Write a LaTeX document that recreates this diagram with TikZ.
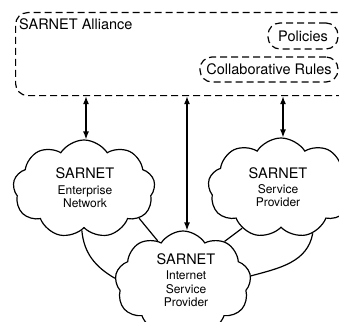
\documentclass[tikz,border=0pt]{standalone}
\usepackage{fontspec}
\setmainfont{TeX Gyre Heros}
\usetikzlibrary{shapes.symbols,arrows.meta}
\begin{document}
\begin{tikzpicture}[x=1pt,y=-1pt,
  dashbox/.style={draw, line width=1.2pt, dash pattern=on 7pt off 4pt, rounded corners=12pt, inner sep=0pt},
  cloudshape/.style={cloud, draw, line width=1.2pt, cloud puffs=9, cloud puff arc=115, cloud ignores aspect, inner sep=0pt},
  bigtxt/.style={font=\fontsize{14.5}{16}\selectfont, inner sep=0pt},
  smalltxt/.style={font=\fontsize{12}{13.5}\selectfont, inner sep=0pt, align=center},
  conn/.style={line width=1.2pt},
  arr/.style={line width=1.2pt, {Latex[length=8pt,width=6pt]}-{Latex[length=8pt,width=6pt]}}
]
\useasboundingbox (0,0) rectangle (339,321);
% alliance box
\node[dashbox, minimum width=345pt, minimum height=83pt, anchor=north west] (box) at (15,12) {};
\node[bigtxt, anchor=west] (title) at (19,24) {SARNET Alliance};
\node[dashbox, minimum width=70pt, minimum height=26pt, font=\fontsize{14.5}{16}\selectfont] (pol) at (303,36) {Policies};
\node[dashbox, minimum width=138pt, minimum height=25pt, font=\fontsize{14.5}{16}\selectfont] (col) at (269,69.5) {Collaborative Rules};
% clouds
\node[cloudshape, minimum width=142pt, minimum height=98pt] (lc) at (84,189) {};
\node[cloudshape, minimum width=146pt, minimum height=100pt] (rc) at (281,188) {};
\node[cloudshape, minimum width=136pt, minimum height=104pt] (bc) at (183,283) {};
% texts
\node[bigtxt] (lt1) at (85,173) {SARNET};
\node[smalltxt] (lt2) at (85,196.5) {Enterprise\\Network};
\node[bigtxt] (rt1) at (278,173) {SARNET};
\node[smalltxt] (rt2) at (278,195.5) {Service\\Provider};
\node[bigtxt] (bt1) at (186,259) {SARNET};
\node[smalltxt] (bt2) at (186,289) {Internet\\Service\\Provider};
% arrows
\coordinate (x1) at (86,0);
\coordinate (x2) at (187,0);
\coordinate (x3) at (283,0);
\draw[arr] (x1 |- box.south) -- (x1 |- lc.north);
\draw[arr] (x2 |- box.south) -- (x2 |- bc.north);
\draw[arr] (x3 |- box.south) -- (x3 |- rc.north);
% cloud links
\draw[conn] (lc.-93) to[out=-85, in=150] (bc.176);
\draw[conn] (lc.-28) -- (bc.121);
\draw[conn] (rc.-134) -- (bc.45);
\draw[conn] (rc.-55) to[out=-100, in=15] (bc.6);
\end{tikzpicture}
\end{document}
